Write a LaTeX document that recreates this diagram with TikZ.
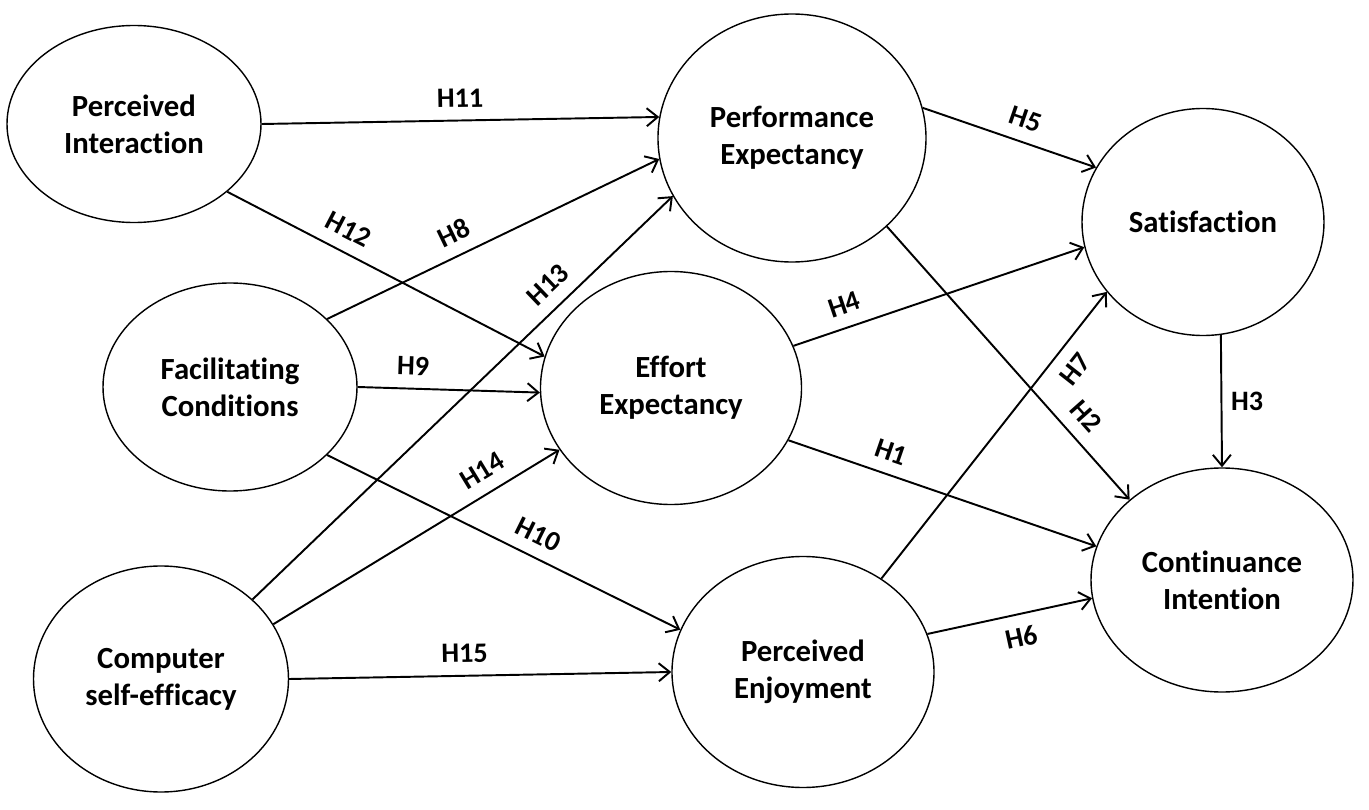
\documentclass[tikz,border=0pt]{standalone}
\usepackage{fontspec}
\setmainfont{Carlito}[Ligatures=NoCommon]
\usepackage{tikz}
\usetikzlibrary{shapes.geometric, arrows.meta}

\begin{document}
\begin{tikzpicture}[
        construct/.style={draw, ellipse, line width=0.8pt, inner sep=0pt, align=center,
            font=\fontsize{17.5}{21}\selectfont\bfseries},
        hypo/.style={-{Straight Barb[length=2.2mm, width=3.6mm]}, line width=1.1pt},
        hlabel/.style={font=\fontsize{16}{19}\selectfont\bfseries, inner sep=2pt},
        abv/.style={above=5pt},
        blw/.style={below=5pt}
    ]
    \useasboundingbox (0,0) rectangle (27.38,16.18);

    % constructs
    \node[construct, minimum width=5.08cm, minimum height=3.94cm] (pi) at (2.68,13.70) {Perceived\\Interaction};
    \node[construct, minimum width=5.08cm, minimum height=4.16cm] (fc) at (4.60,8.44) {Facilitating\\Conditions};
    \node[construct, minimum width=5.10cm, minimum height=4.52cm] (cse) at (3.22,2.60) {Computer\\self-efficacy};
    \node[construct, minimum width=5.36cm, minimum height=4.96cm] (pe) at (15.84,13.42) {Performance\\Expectancy};
    \node[construct, minimum width=5.22cm, minimum height=4.66cm] (ee) at (13.42,8.42) {Effort\\Expectancy};
    \node[construct, minimum width=5.24cm, minimum height=4.62cm] (penj) at (16.06,2.74) {Perceived\\Enjoyment};
    \node[construct, minimum width=4.84cm, minimum height=4.54cm] (sat) at (24.06,11.74) {Satisfaction};
    \node[construct, minimum width=5.24cm, minimum height=4.48cm] (ci) at (24.44,4.58) {Continuance\\Intention};

    % hypotheses
    \foreach \a/\b/\h/\p/\s in {
            pi.0/pe.171/H11/0.5/abv, pi.-36/ee.166/H12/0.35/abv,
            fc.35/pe.189/H8/0.41/abv, fc.0/ee.182/H9/0.3/abv,
            fc.-35/penj.161/H10/0.57/abv, cse.41/pe.206/H13/0.74/abv,
            cse.26/ee.209/H14/0.77/abv, cse.0/penj.180/H15/0.46/abv,
            pe.13/sat.153/H5/0.55/abv, ee.19/sat.192/H4/0.2/abv,
            penj.50/sat.216/H7/0.78/blw, pe.-43/ci.139/H2/0.75/abv,
            ee.-24/ci.165/H1/0.31/abv, penj.17/ci.188/H6/0.54/blw} {
        \draw[hypo] (\a) -- node[hlabel, sloped, pos=\p, \s] {\h} (\b);
    }
    \draw[hypo] (sat.-81) -- node[hlabel, right=3pt] {H3} (ci.north);
\end{tikzpicture}
\end{document}
